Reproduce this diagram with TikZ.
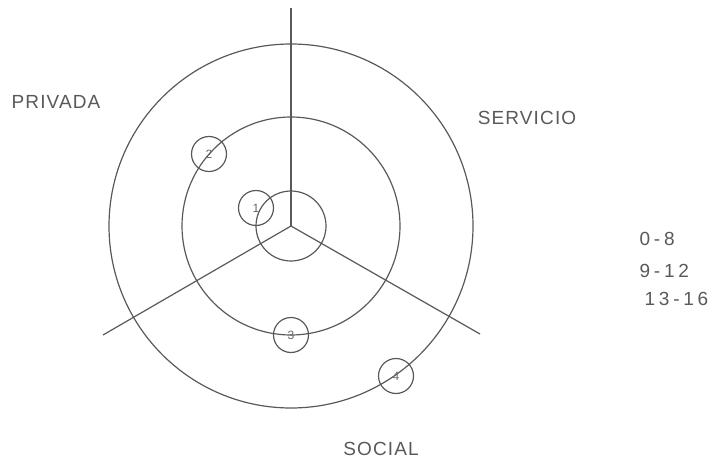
\documentclass[tikz,border=0pt]{standalone}
\usepackage{fontspec}
\setmainfont{Liberation Sans}
\newfontfamily\cadfont[LetterSpace=6]{Liberation Sans}
\newfontfamily\numfont[LetterSpace=20]{Liberation Sans}
\usetikzlibrary{positioning}

\begin{document}
\begin{tikzpicture}[
    x=1pt, y=-1pt,
    ring/.style={draw=black!65, line width=1.2pt, circle, inner sep=0pt},
    spot/.style={draw=black!65, line width=1.2pt, circle, inner sep=0pt, minimum size=35pt, font=\fontsize{12}{12}\selectfont, text=black!60},
    axis/.style={draw=black!65, line width=1.2pt},
    zone/.style={font=\cadfont\fontsize{19}{19}\selectfont, text=black!65},
    agelabel/.style={font=\numfont\fontsize{19}{19}\selectfont, text=black!65, anchor=west}
]
\useasboundingbox (0,0) rectangle (714,462);

% centre and rings
\coordinate (c) at (291,226);
\node[ring, minimum size=364pt] (outer) at (c) {};
\node[ring, minimum size=218pt] (middle) at (c) {};
\node[ring, minimum size=70pt] (inner) at (c) {};

% zone limits
\coordinate (top) at (291,8);
\coordinate (left) at (103,335);
\coordinate (right) at (480,334);
\draw[axis] (c) -- (top);
\draw[axis] (c) -- (left);
\draw[axis] (c) -- (right);

% spaces
\node[spot] (s1) at (256,208) {1};
\node[spot] (s2) at (209,154) {2};
\node[spot] (s3) at (291,335) {3};
\node[spot] (s4) at (396,376) {4};

% zone names
\node[zone] (privada) at (56,102) {PRIVADA};
\node[zone] (servicio) at (527,118) {SERVICIO};
\node[zone] (social) at (381,449) {SOCIAL};

% age ranges
\node[agelabel] (r1) at (636,239) {0-8};
\node[agelabel] (r2) at (636,271) {9-12};
\node[agelabel] (r3) at (641,299) {13-16};

\end{tikzpicture}
\end{document}
